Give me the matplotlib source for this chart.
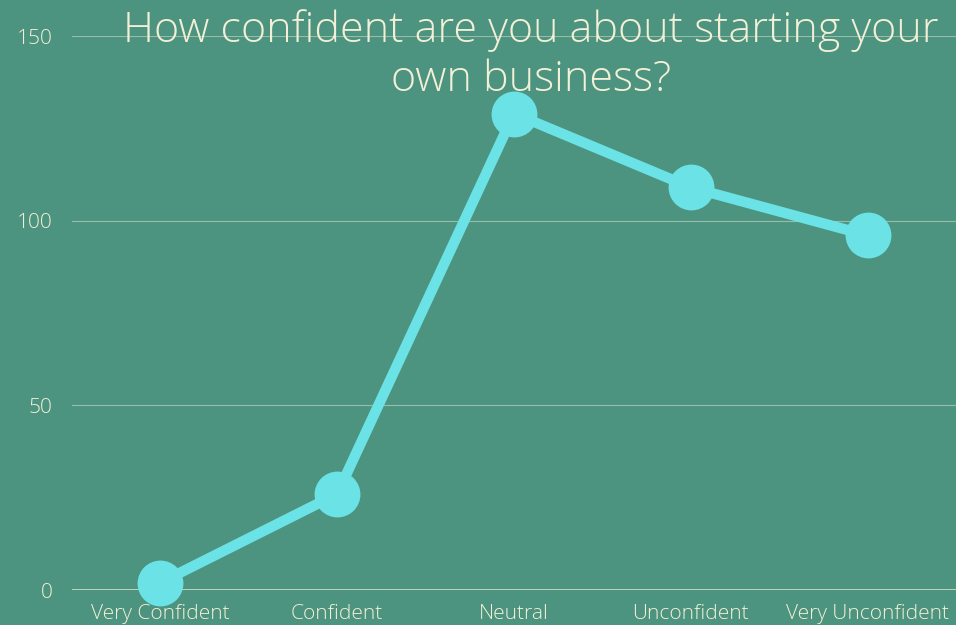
import matplotlib.pyplot as plt

# data
categories = ["Very Confident", "Confident", "Neutral", "Unconfident", "Very Unconfident"]
responses = [2, 26, 129, 109, 96]
yticks = [0, 50, 100, 150]

bg = "#4d9480"
txt = "#f3f0d7"
line_c = "#6be3e6"

plt.rcParams["font.family"] = ["Open Sans", "DejaVu Sans"]

fig = plt.figure(figsize=(9.56, 6.25), dpi=100, facecolor=bg)
ax = fig.add_axes([72 / 956, 1 - 590 / 625, 1 - 72 / 956, (590 - 36) / 625])
ax.set_facecolor(bg)

x = list(range(len(categories)))
ax.plot(x, responses, color=line_c, lw=7.5, marker="o", ms=32, solid_capstyle="round",
        zorder=3, clip_on=False)

ax.set_xlim(-0.5, len(categories) - 0.5)
ax.set_ylim(0, 150)
ax.set_yticks(yticks)
ax.set_xticks(x)
ax.set_xticklabels(categories)
for s in ax.spines.values():
    s.set_visible(False)
ax.axhline(0, color=txt, lw=1.2, alpha=0.8, zorder=1)
for v in yticks[1:]:
    ax.axhline(v, color=txt, lw=0.8, alpha=0.45, zorder=1)
ax.tick_params(length=0, colors=txt, labelsize=15)
ax.tick_params(axis="y", pad=14)
ax.tick_params(axis="x", pad=10)
for lab in ax.get_xticklabels() + ax.get_yticklabels():
    lab.set_fontweight("light")

fig.text(531 / 956, 1 - 55 / 625, "How confident are you about starting your\nown business?",
         ha="center", va="center", color=txt, fontsize=31, fontweight="light",
         linespacing=1.2)

fig.savefig("out.png", dpi=100, facecolor=bg)
